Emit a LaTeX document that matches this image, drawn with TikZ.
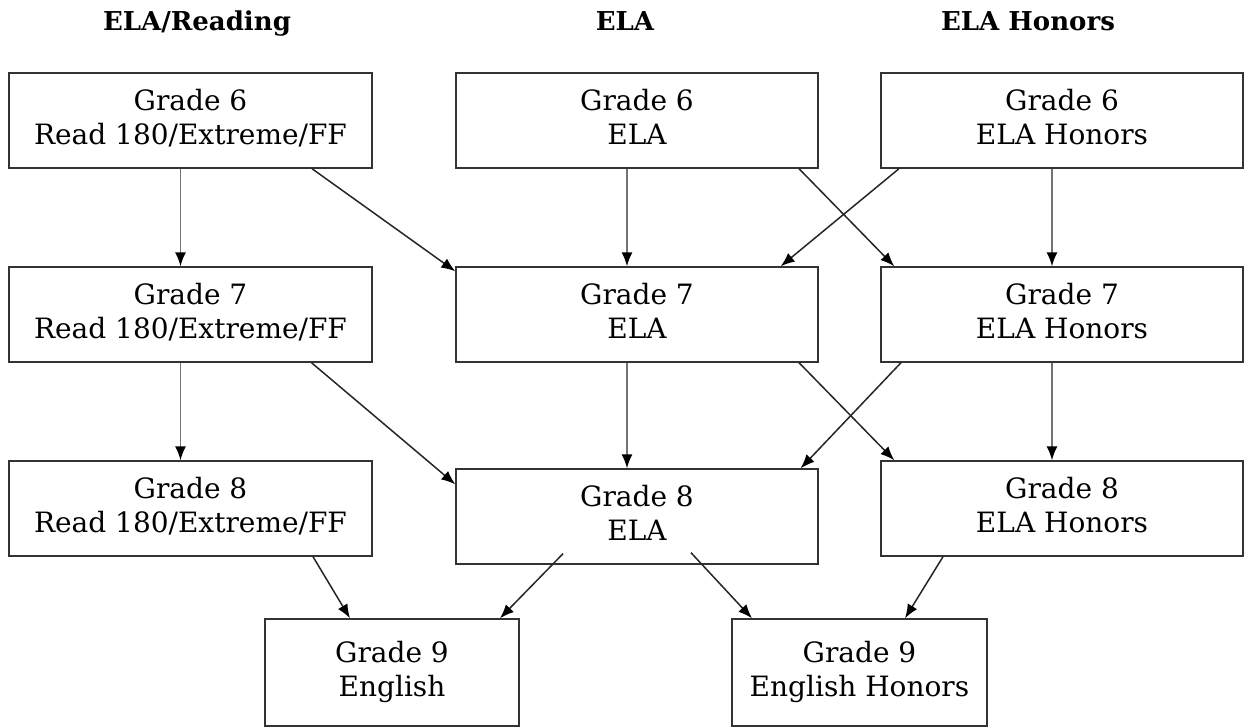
\documentclass[tikz,border=0pt]{standalone}
\usepackage{fontspec}
\setmainfont{DejaVu Serif}
\usetikzlibrary{arrows.meta}
\newcommand{\course}[2]{\begin{tabular}{c}#1\\#2\end{tabular}}

\begin{document}
\begin{tikzpicture}[x=1pt,y=-1pt,
  gradebox/.style={draw=black!80,line width=1.4pt,minimum width=362pt,minimum height=95pt,inner sep=0pt,
    font=\fontsize{28}{34}\selectfont},
  colhead/.style={anchor=base,font=\fontsize{26}{30}\selectfont\bfseries},
  path/.style={-{Latex[length=14pt,width=11pt,color=black]},line width=1.5pt,black!85},
  down/.style={path,black!55}]
\useasboundingbox (0,0) rectangle (1253,727);
\node[colhead] (hRead) at (197,31) {ELA/Reading};
\node[colhead] (hEla)  at (625,31) {ELA};
\node[colhead] (hHon)  at (1028,31) {ELA Honors};
% grades 6-8
\node[gradebox,minimum width=363pt] (L1) at (190.5,120.5) {\course{Grade 6}{Read 180/Extreme/FF}};
\node[gradebox] (M1) at (637,120.5) {\course{Grade 6}{ELA}};
\node[gradebox] (R1) at (1062,120.5) {\course{Grade 6}{ELA Honors}};
\node[gradebox,minimum width=363pt] (L2) at (190.5,314.5) {\course{Grade 7}{Read 180/Extreme/FF}};
\node[gradebox] (M2) at (637,314.5) {\course{Grade 7}{ELA}};
\node[gradebox] (R2) at (1062,314.5) {\course{Grade 7}{ELA Honors}};
\node[gradebox,minimum width=363pt] (L3) at (190.5,508.5) {\course{Grade 8}{Read 180/Extreme/FF}};
\node[gradebox] (M3) at (637,516.5) {\course{Grade 8}{ELA}};
\node[gradebox] (R3) at (1062,508.5) {\course{Grade 8}{ELA Honors}};
% grade 9
\node[gradebox,minimum width=254pt,minimum height=107pt] (E9) at (392,672.5) {\raisebox{6pt}{\course{Grade 9}{English}}};
\node[gradebox,minimum width=255pt,minimum height=107pt] (H9) at (859.5,672.5) {\raisebox{6pt}{\course{Grade 9}{English Honors}}};

\draw[down] ([xshift=-10pt]L1.south) -- ([xshift=-10pt]L2.north);
\draw[down] ([xshift=-10pt]L2.south) -- ([xshift=-10pt]L3.north);
\draw[down] ([xshift=-10pt]M1.south) -- ([xshift=-10pt]M2.north);
\draw[down] ([xshift=-10pt]M2.south) -- ([xshift=-10pt]M3.north);
\draw[down] ([xshift=-10pt]R1.south) -- ([xshift=-10pt]R2.north);
\draw[down] ([xshift=-10pt]R2.south) -- ([xshift=-10pt]R3.north);
\draw[path] ([xshift=121.5pt]L1.south) -- ([yshift=-5pt]M2.north west);
\draw[path] ([xshift=121pt]L2.south) -- ([yshift=-16pt]M3.north west);
\draw[path] ([xshift=162pt]M1.south) -- ([xshift=14pt]R2.north west);
\draw[path] ([xshift=162pt]M2.south) -- ([xshift=14pt]R3.north west);
\draw[path] ([xshift=-163pt]R1.south) -- ([xshift=-38pt]M2.north east);
\draw[path] ([xshift=-161pt]R2.south) -- ([xshift=-18pt]M3.north east);
\draw[path] ([xshift=122.5pt]L3.south) -- ([xshift=-42pt]E9.north);
\draw[path] ([shift={(-74pt,11pt)}]M3.south) -- ([xshift=108pt]E9.north);
\draw[path] ([shift={(54pt,12pt)}]M3.south) -- ([xshift=-107.5pt]H9.north);
\draw[path] ([xshift=-119pt]R3.south) -- ([xshift=45.5pt]H9.north);
\end{tikzpicture}
\end{document}
